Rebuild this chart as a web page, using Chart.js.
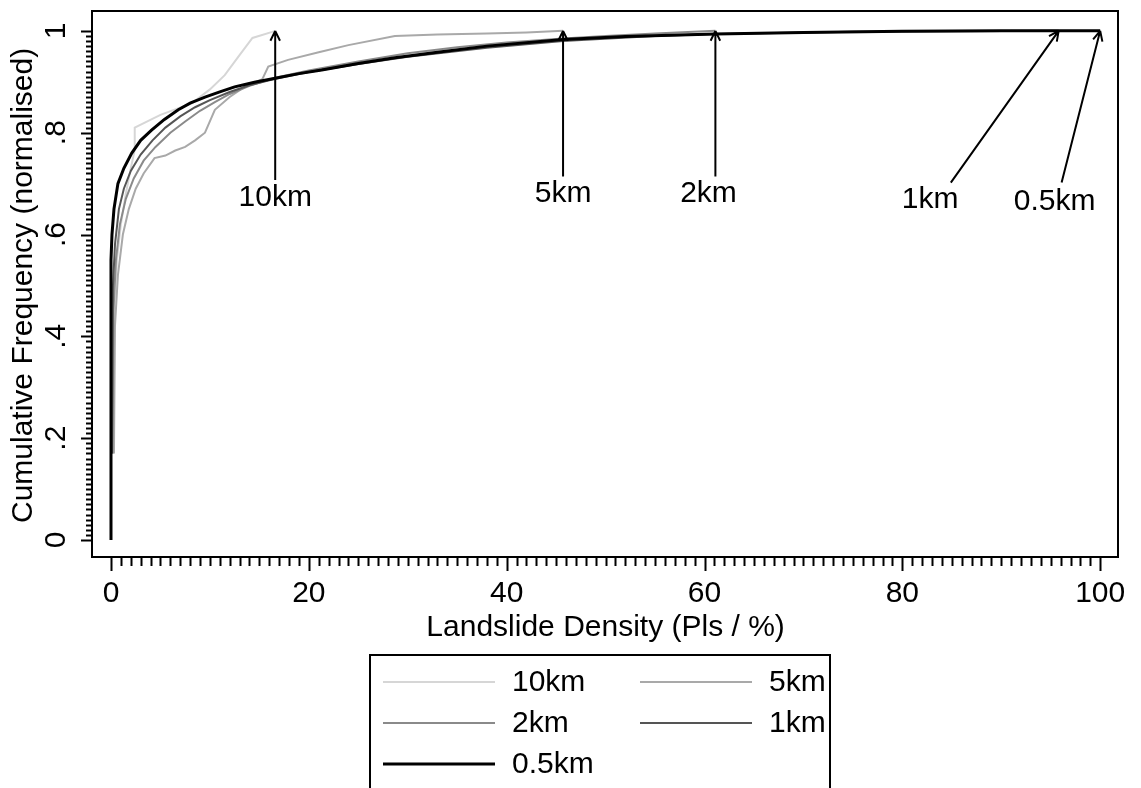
<!DOCTYPE html>
<html>
<head>
<meta charset="utf-8">
<script src="https://cdn.jsdelivr.net/npm/chart.js@4.4.1/dist/chart.umd.min.js"></script>
<style>
  html, body { margin: 0; padding: 0; background: #fff; }
  #wrap { width: 1141px; height: 788px; }
</style>
</head>
<body>
<div id="wrap"><canvas id="chart"></canvas></div>
<script>
// series, lightest (coarsest cell size) first
const seriesNames = ['10km', '5km', '2km', '1km', '0.5km'];
const seriesColors = ['#d6d6d6', '#a9a9a9', '#8a8a8a', '#555555', '#000000'];
const seriesWidths = [2, 2, 2, 2, 3];

const x10km = [0.25, 0.35, 0.6, 1.0, 1.5, 2.0, 2.4, 2.4, 5.0, 8.2, 10.0, 11.5, 12.9, 14.3, 16.3, 16.6];
const y10km = [0.17, 0.45, 0.55, 0.62, 0.68, 0.73, 0.766, 0.81, 0.835, 0.858, 0.885, 0.913, 0.95, 0.986, 0.998, 1.0];

const x5km = [0.3, 0.4, 0.7, 1.2, 1.8, 2.5, 3.3, 4.4, 5.5, 6.5, 7.5, 8.5, 9.5, 10.5, 12.0, 13.5, 15.3, 15.9, 17.9, 21, 24, 28.7, 33, 38, 42, 45.7];
const y5km = [0.17, 0.42, 0.52, 0.6, 0.65, 0.69, 0.72, 0.75, 0.755, 0.765, 0.772, 0.785, 0.80, 0.845, 0.87, 0.89, 0.905, 0.93, 0.943, 0.958, 0.972, 0.99, 0.993, 0.995, 0.997, 1.0];

const x2km = [0.15, 0.25, 0.5, 0.9, 1.5, 2.3, 3.3, 4.5, 6.0, 7.5, 9.0, 10.5, 12.0, 14.0, 16.6, 20, 25, 30, 35, 40, 45.7, 50, 55, 61.1];
const y2km = [0.17, 0.45, 0.55, 0.62, 0.67, 0.71, 0.745, 0.772, 0.80, 0.822, 0.843, 0.86, 0.876, 0.892, 0.908, 0.922, 0.94, 0.956, 0.968, 0.977, 0.985, 0.99, 0.995, 1.0];

const x1km = [0.1, 0.2, 0.4, 0.8, 1.3, 2.0, 3.0, 4.2, 5.5, 7.0, 8.5, 10, 12, 14, 16.6, 20, 25, 30, 38, 45.7, 55, 61.1, 75, 85, 95.8];
const y1km = [0.17, 0.5, 0.58, 0.65, 0.69, 0.725, 0.757, 0.785, 0.81, 0.832, 0.85, 0.864, 0.88, 0.893, 0.906, 0.919, 0.935, 0.949, 0.967, 0.98, 0.99, 0.994, 0.998, 0.999, 1.0];

const x05km = [0, 0, 0.1, 0.3, 0.7, 1.3, 2.1, 3.0, 4.1, 5.4, 6.8, 8.0, 9.5, 11, 12.5, 14.5, 16.6, 19, 21.3, 25, 28.7, 33, 38, 45.7, 52, 61.1, 70, 80, 90, 100];
const y05km = [0, 0.55, 0.6, 0.65, 0.70, 0.73, 0.76, 0.785, 0.805, 0.826, 0.845, 0.858, 0.87, 0.88, 0.89, 0.899, 0.907, 0.916, 0.923, 0.936, 0.947, 0.958, 0.970, 0.983, 0.989, 0.994, 0.997, 0.999, 1.0, 1.0];

const seriesX = [x10km, x5km, x2km, x1km, x05km];
const seriesY = [y10km, y5km, y2km, y1km, y05km];

// axes
const xTicks = [0, 20, 40, 60, 80, 100];
const yTicks = [0, 0.2, 0.4, 0.6, 0.8, 1];
const yTickLabels = ['0', '.2', '.4', '.6', '.8', '1'];
const xTitle = 'Landslide Density (Pls / %)';
const yTitle = 'Cumulative Frequency (normalised)';

// arrows: label, tip (x, y), base (x, y), label position (x, y)
const annLabels = ['10km', '5km', '2km', '1km', '0.5km'];
const annTipX = [16.6, 45.7, 61.1, 95.8, 100];
const annTipY = [1, 1, 1, 1, 1];
const annBaseX = [16.6, 45.7, 61.1, 84.9, 96.1];
const annBaseY = [0.707, 0.714, 0.714, 0.702, 0.702];
const annTextX = [16.6, 45.7, 60.4, 82.8, 95.4];
const annTextY = [0.673, 0.68, 0.68, 0.668, 0.664];

const FONT = '30px "Liberation Sans", Arial, sans-serif';

const stataPlugin = {
  id: 'stataDecor',
  afterDraw(chart) {
    const { ctx, chartArea: a } = chart;
    const xs = chart.scales.x, ys = chart.scales.y;
    ctx.save();
    ctx.strokeStyle = '#000';
    ctx.fillStyle = '#000';
    ctx.lineWidth = 2;
    ctx.strokeRect(a.left, a.top, a.right - a.left, a.bottom - a.top);

    // x ticks: minor every 1, major at labels
    ctx.beginPath();
    for (let i = 0; i <= 100; i++) {
      const px = Math.round(xs.getPixelForValue(i)) + 0.5;
      const len = xTicks.includes(i) ? 14 : 9;
      ctx.moveTo(px, a.bottom);
      ctx.lineTo(px, a.bottom + len);
    }
    // y ticks: minor every .01
    for (let i = 0; i <= 100; i++) {
      const py = Math.round(ys.getPixelForValue(i / 100)) + 0.5;
      const len = i % 20 === 0 ? 11 : 6;
      ctx.moveTo(a.left, py);
      ctx.lineTo(a.left - len, py);
    }
    ctx.stroke();

    ctx.font = FONT;
    ctx.textAlign = 'center';
    ctx.textBaseline = 'middle';
    xTicks.forEach(v => ctx.fillText(String(v), xs.getPixelForValue(v), a.bottom + 37));
    yTicks.forEach((v, i) => {
      ctx.save();
      ctx.translate(57, ys.getPixelForValue(v));
      ctx.rotate(-Math.PI / 2);
      ctx.fillText(yTickLabels[i], 0, 0);
      ctx.restore();
    });
    ctx.fillText(xTitle, xs.getPixelForValue(50), a.bottom + 71);
    ctx.save();
    ctx.translate(24, ys.getPixelForValue(0.5));
    ctx.rotate(-Math.PI / 2);
    ctx.fillText(yTitle, 0, 0);
    ctx.restore();

    // arrows
    ctx.lineWidth = 2;
    annLabels.forEach((lab, i) => {
      const bx = xs.getPixelForValue(annBaseX[i]), by = ys.getPixelForValue(annBaseY[i]);
      const tx = xs.getPixelForValue(annTipX[i]), ty = ys.getPixelForValue(annTipY[i]);
      const ang = Math.atan2(ty - by, tx - bx);
      ctx.beginPath();
      ctx.moveTo(bx, by);
      ctx.lineTo(tx, ty);
      [0.45, -0.45].forEach(d => {
        ctx.moveTo(tx, ty);
        ctx.lineTo(tx - 11 * Math.cos(ang + d), ty - 11 * Math.sin(ang + d));
      });
      ctx.stroke();
      ctx.fillText(lab, xs.getPixelForValue(annTextX[i]), ys.getPixelForValue(annTextY[i]));
    });

    // legend box
    ctx.lineWidth = 2;
    ctx.strokeRect(370, 655, 460, 160);
    ctx.textAlign = 'left';
    seriesNames.forEach((name, i) => {
      const col = i % 2, row = Math.floor(i / 2);
      const lx = 383 + col * 257, ly = 682 + row * 41;
      ctx.strokeStyle = seriesColors[i];
      ctx.lineWidth = seriesWidths[i];
      ctx.beginPath();
      ctx.moveTo(lx, ly);
      ctx.lineTo(lx + 112, ly);
      ctx.stroke();
      ctx.fillStyle = '#000';
      ctx.fillText(name, lx + 129, ly + 1);
    });
    ctx.restore();
  }
};

const datasets = seriesNames.map((name, i) => ({
  label: name,
  data: seriesX[i].map((x, j) => ({ x: x, y: seriesY[i][j] })),
  borderColor: seriesColors[i],
  borderWidth: seriesWidths[i],
  showLine: true,
  pointRadius: 0,
  tension: 0,
  order: seriesNames.length - 1 - i
}));

new Chart(document.getElementById('chart'), {
  type: 'scatter',
  data: { datasets: datasets },
  options: {
    responsive: true,
    maintainAspectRatio: false,
    animation: false,
    layout: { padding: { left: 92, top: 11, right: 23, bottom: 231 } },
    plugins: { legend: { display: false }, tooltip: { enabled: false } },
    scales: {
      x: { type: 'linear', min: -1.92, max: 101.8, display: false },
      y: { type: 'linear', min: -0.0334, max: 1.039, display: false }
    }
  },
  plugins: [stataPlugin]
});
</script>
</body>
</html>
